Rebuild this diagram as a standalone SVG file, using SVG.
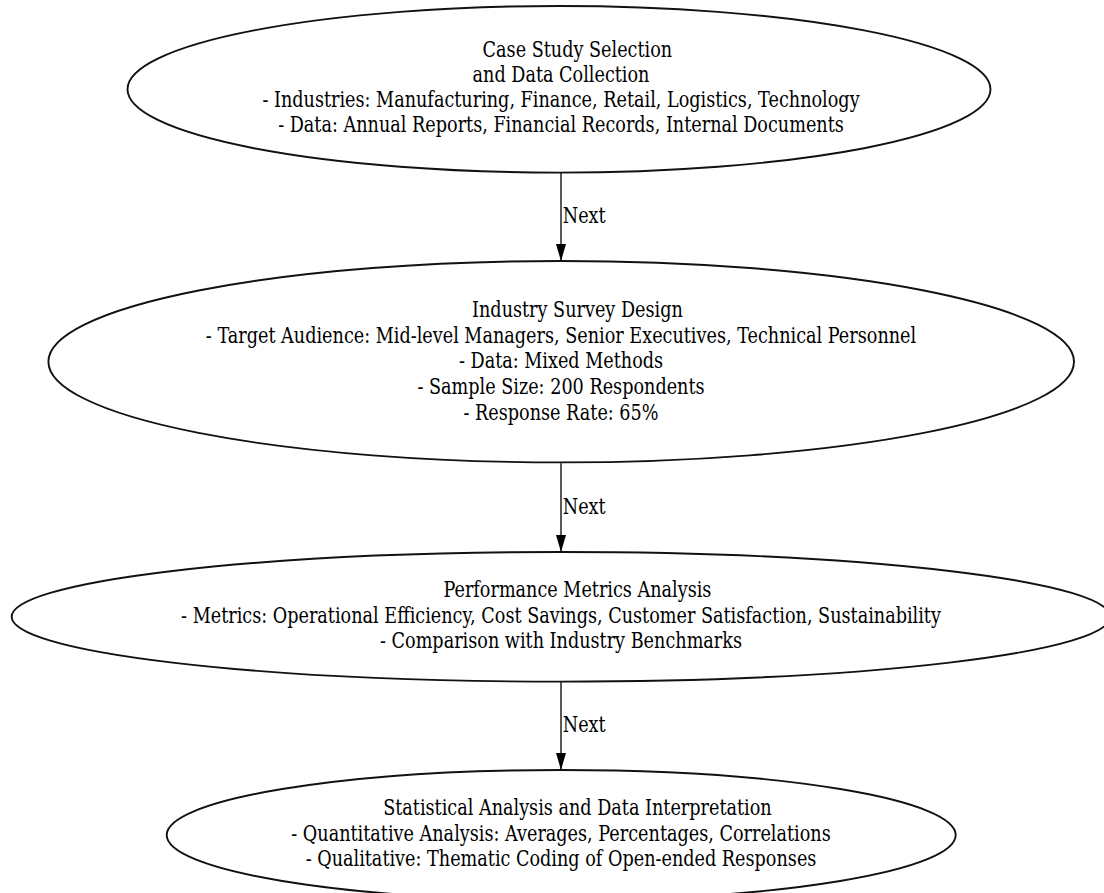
<svg xmlns="http://www.w3.org/2000/svg" width="1104" height="893" viewBox="0 0 1104 893">
<defs>
<style>
.node ellipse{fill:none;stroke:#111;stroke-width:1.9}
text{font-family:"DejaVu Serif","Liberation Serif",serif;font-size:21.5px;fill:#000;text-anchor:middle}
.lbl{text-anchor:start}
.edge line{stroke:#000;stroke-width:1.3}
</style>
<marker id="ah" markerUnits="userSpaceOnUse" markerWidth="11" markerHeight="18" refX="5" refY="17" orient="0" viewBox="0 0 11 18">
<path d="M0,0 L10,0 L5,17 z" fill="#000"/>
</marker>
</defs>
<rect width="1104" height="893" fill="#fff"/>
<g id="edges" class="edge">
<line x1="561" y1="172.7" x2="561" y2="261" marker-end="url(#ah)"/>
<line x1="561" y1="463.3" x2="561" y2="552" marker-end="url(#ah)"/>
<line x1="561" y1="681.7" x2="561" y2="770" marker-end="url(#ah)"/>
<g transform="translate(561,0) scale(0.82,1)">
<text class="lbl" x="2.1" y="222.7">Next</text>
<text class="lbl" x="2.1" y="514">Next</text>
<text class="lbl" x="2.1" y="731.7">Next</text>
</g>
</g>
<g id="node1" class="node">
<ellipse cx="559" cy="89.3" rx="431.5" ry="83.3"/>
<g transform="translate(561,0) scale(0.82,1)">
<text x="20" y="56.7">Case Study Selection</text>
<text x="0" y="81.7">and Data Collection</text>
<text x="0" y="106.7">- Industries: Manufacturing, Finance, Retail, Logistics, Technology</text>
<text x="0" y="131.7">- Data: Annual Reports, Financial Records, Internal Documents</text>
</g>
</g>
<g id="node2" class="node">
<ellipse cx="561.2" cy="361.7" rx="512.8" ry="100.7"/>
<g transform="translate(561,0) scale(0.82,1)">
<text x="20" y="316.7">Industry Survey Design</text>
<text x="0" y="342.7">- Target Audience: Mid-level Managers, Senior Executives, Technical Personnel</text>
<text x="0" y="368.3">- Data: Mixed Methods</text>
<text x="0" y="394">- Sample Size: 200 Respondents</text>
<text x="0" y="420">- Response Rate: 65%</text>
</g>
</g>
<g id="node3" class="node">
<ellipse cx="561" cy="616.8" rx="549.3" ry="64.8"/>
<g transform="translate(561,0) scale(0.82,1)">
<text x="20" y="596.7">Performance Metrics Analysis</text>
<text x="0" y="622.7">- Metrics: Operational Efficiency, Cost Savings, Customer Satisfaction, Sustainability</text>
<text x="0" y="648.3">- Comparison with Industry Benchmarks</text>
</g>
</g>
<g id="node4" class="node">
<ellipse cx="561.2" cy="835" rx="394.5" ry="65"/>
<g transform="translate(561,0) scale(0.82,1)">
<text x="20" y="815.3">Statistical Analysis and Data Interpretation</text>
<text x="0" y="841">- Quantitative Analysis: Averages, Percentages, Correlations</text>
<text x="0" y="866.5">- Qualitative: Thematic Coding of Open-ended Responses</text>
</g>
</g>
</svg>
